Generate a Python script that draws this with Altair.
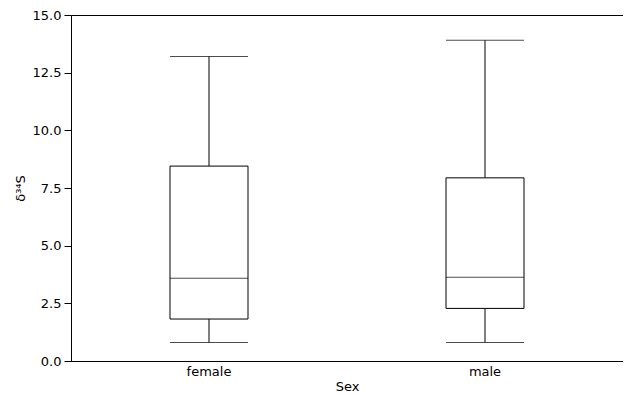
import altair as alt
import pandas as pd

sex = ["female", "male"]
whisker_low = [0.8, 0.8]
q1 = [1.82, 2.28]
median = [3.59, 3.63]
q3 = [8.45, 7.94]
whisker_high = [13.2, 13.9]

df = pd.DataFrame({"Sex": sex, "lo": whisker_low, "q1": q1, "med": median,
                   "q3": q3, "hi": whisker_high})

FONT = "DejaVu Sans"
BOXW = 78

x = alt.X("Sex:N", title="Sex",
          scale=alt.Scale(paddingInner=0, paddingOuter=0),
          axis=alt.Axis(ticks=False, labelAngle=0, labelPadding=4, titlePadding=2,
                        domainColor="black", labelColor="black", titleColor="black",
                        labelFontSize=13, titleFontSize=13, labelFont=FONT, titleFont=FONT,
                        titleFontWeight="normal"))
yscale = alt.Scale(domain=[0, 15], nice=False)
yaxis = alt.Axis(values=[0, 2.5, 5, 7.5, 10, 12.5, 15], format=".1f", grid=False,
                 tickColor="black", tickSize=7, domainColor="black", labelColor="black",
                 titleColor="black", labelFontSize=13, titleFontSize=13,
                 labelFont=FONT, titleFont=FONT, titleFontWeight="normal",
                 labelPadding=3, titlePadding=5)

base = alt.Chart(df)

rule = base.mark_rule(color="black", strokeWidth=1).encode(
    x=x,
    y=alt.Y("lo:Q", scale=yscale, axis=yaxis, title="δ³⁴S"),
    y2="hi:Q")
box = base.mark_bar(fill="white", stroke="black", strokeWidth=1, size=BOXW).encode(
    x=x, y=alt.Y("q1:Q", scale=yscale), y2="q3:Q")
med = base.mark_tick(color="black", thickness=1, size=BOXW, orient="horizontal").encode(
    x=x, y=alt.Y("med:Q", scale=yscale))
lo = base.mark_tick(color="black", thickness=1, size=BOXW, orient="horizontal").encode(
    x=x, y=alt.Y("lo:Q", scale=yscale))
hi = base.mark_tick(color="black", thickness=1, size=BOXW, orient="horizontal").encode(
    x=x, y=alt.Y("hi:Q", scale=yscale))

chart = alt.layer(rule, box, med, lo, hi).properties(
    width=552, height=346, autosize="none",
    padding={"left": 63, "top": 7, "right": 0, "bottom": 31}
).configure_view(stroke="black", strokeWidth=1)

chart.save("out.html", embed_options={"renderer": "svg", "actions": False})
